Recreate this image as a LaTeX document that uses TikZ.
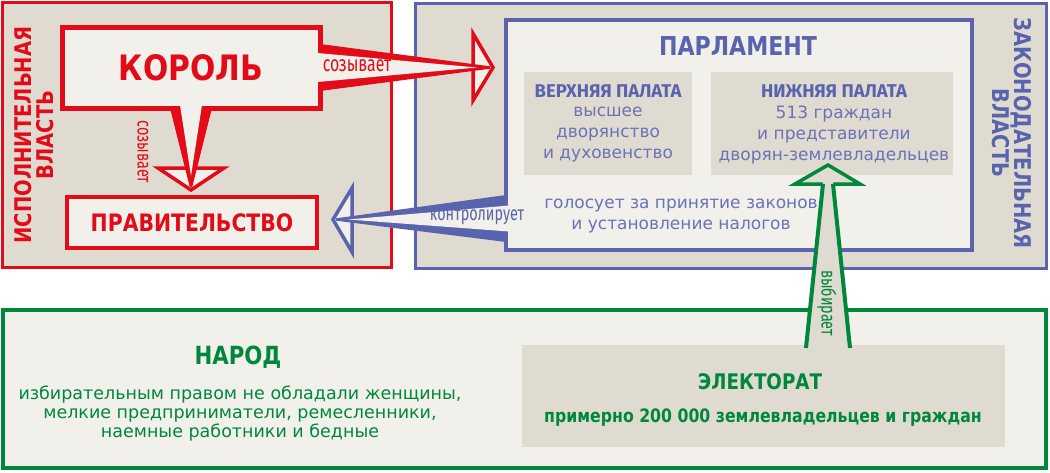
\documentclass[tikz,border=0pt]{standalone}
\usepackage{fontspec}
\setmainfont{DejaVu Sans}
\newfontfamily\hfont[FakeStretch=0.85]{DejaVu Sans}
\newfontfamily\cfont[FakeStretch=0.72]{Fira Sans}
\newfontfamily\wfont{Fira Sans}
\newfontfamily\bodyfont{DejaVu Sans}
\usetikzlibrary{calc}
\definecolor{cred}{RGB}{227,11,23}
\definecolor{cblue}{RGB}{90,99,173}
\definecolor{cblt}{RGB}{107,114,182}
\definecolor{cgreen}{RGB}{0,135,60}
\definecolor{cbeige}{RGB}{223,219,209}
\definecolor{clight}{RGB}{241,240,235}
\begin{document}
\begin{tikzpicture}[x=1pt,y=-1pt,
  box/.style={rectangle, inner sep=0pt, outer sep=0pt},
  bigbox/.style={box, line width=3pt, fill=cbeige},
  graybox/.style={box, fill=cbeige},
  htxt/.style={inner sep=0pt, font=\hfont\bfseries\fontsize{#1}{#1}\selectfont},
  ctxt/.style={inner sep=0pt, font=\cfont\fontsize{#1}{#1}\selectfont},
  wbtxt/.style={inner sep=0pt, font=\wfont\bfseries\fontsize{#1}{#1}\selectfont},
  btxt/.style={inner sep=0pt, align=center, font=\bodyfont\fontsize{#1}{21}\selectfont},
  headtri/.style={line width=3.5pt, line join=miter},
]
\useasboundingbox (0,0) rectangle (1050,472);
\fill[white] (0,0) rectangle (1050,472);

% big boxes
\node[bigbox, draw=cred, minimum width=389pt, minimum height=265pt] (exec) at (196.5,134.5) {};
\node[bigbox, draw=cblue, minimum width=631pt, minimum height=265pt] (legis) at (730.5,135.5) {};
\node[box, draw=cgreen, line width=4pt, fill=clight, minimum width=1043pt, minimum height=158pt] (people) at (524.5,389) {};

% parliament
\node[box, draw=cblue, line width=4pt, fill=clight, minimum width=466pt, minimum height=230pt] (parl) at (739,135) {};
\node[graybox, minimum width=168pt, minimum height=103pt] (upper) at (608,123.5) {};
\node[graybox, minimum width=242pt, minimum height=103pt] (lower) at (832,123.5) {};

% king & government
\node[box, draw=cred, line width=5pt, fill=clight, minimum width=258pt, minimum height=81pt] (king) at (191,67.5) {};
\node[box, draw=cred, line width=4pt, fill=clight, minimum width=250pt, minimum height=51pt,
      text=cred, font=\hfont\bfseries\fontsize{24}{24}\selectfont] (gov) at (192,222.5) {ПРАВИТЕЛЬСТВО};

% electorate
\node[graybox, minimum width=483pt, minimum height=102pt] (elect) at (763.5,396) {};

% ---- red arrow to parliament
\coordinate (rtip) at (493,67.5);
\filldraw[headtri, draw=cred, fill=clight] ($(rtip)+(-20,-34)$) -- (rtip) -- ($(rtip)+(-20,33)$) -- cycle;
\fill[cred] ($(king.east)+(0,-23.5)$) -- ($(rtip)+(-3,-1.2)$) -- ($(rtip)+(-3,1.2)$) -- ($(king.east)+(0,23.5)$) -- cycle;
\fill[clight] ($(king.east)+(-2.5,-14.5)$) -- ($(rtip)+(-16,0)$) -- ($(king.east)+(-2.5,14.5)$) -- cycle;

% ---- red arrow to government
\coordinate (dtip) at (191,190);
\filldraw[headtri, draw=cred, fill=clight] ($(dtip)+(-33,-22)$) -- (dtip) -- ($(dtip)+(33,-22)$) -- cycle;
\fill[cred] ($(king.south)+(-21,0)$) -- ($(dtip)+(-1.2,-3)$) -- ($(dtip)+(1.2,-3)$) -- ($(king.south)+(21,0)$) -- cycle;
\fill[clight] ($(king.south)+(-11,-3)$) -- ($(dtip)+(0,-14)$) -- ($(king.south)+(11,-3)$) -- cycle;

% ---- blue arrow to government
\coordinate (btip) at (333,219.5);
\coordinate (bstart) at (parl.west |- btip);
\filldraw[headtri, draw=cblue, fill=clight] ($(btip)+(19,-31.5)$) -- (btip) -- ($(btip)+(19,32.5)$) -- cycle;
\fill[cblue] ($(bstart)+(0,-24.5)$) -- ($(btip)+(3,-1.2)$) -- ($(btip)+(3,1.2)$) -- ($(bstart)+(0,22.5)$) -- cycle;
\fill[clight] ($(bstart)+(3,-14)$) -- ($(btip)+(15,0)$) -- ($(bstart)+(3,12)$) -- cycle;

% ---- green arrow to lower chamber
\coordinate (gtip) at (828,165);
\coordinate (gbase) at (gtip |- elect.north);
\filldraw[headtri, draw=cgreen, fill=cbeige] ($(gtip)+(-33,19)$) -- (gtip) -- ($(gtip)+(32,19)$) -- cycle;
\fill[cbeige] ($(gbase)+(-22,3)$) -- ($(gtip)+(-5,17)$) -- ($(gtip)+(5,17)$) -- ($(gbase)+(22,3)$) -- cycle;
\draw[cgreen, line width=4pt] ($(gbase)+(-22,3)$) -- ($(gtip)+(-5,19)$);
\draw[cgreen, line width=4pt] ($(gbase)+(22,3)$) -- ($(gtip)+(5,19)$);

% ---- texts
\node[htxt=35, text=cred] (kingt) at (king.center) {КОРОЛЬ};
\node[ctxt=22, text=cred] (summ1) at (357,66) {созывает};
\node[ctxt=20, text=cred, rotate=-90] (summ2) at (143,152) {созывает};
\node[ctxt=20, text=cblue] (ctrl) at (477,217) {контролирует};
\node[ctxt=20, text=cgreen, rotate=-90] (elects) at (827,303) {выбирает};

\node[text=cred, rotate=90, align=center, inner sep=0pt, font=\hfont\bfseries\fontsize{23}{22}\selectfont] (execlab) at (34,135) {ИСПОЛНИТЕЛЬНАЯ\\ВЛАСТЬ};
\node[text=cblue, rotate=-90, align=center, inner sep=0pt, font=\hfont\bfseries\fontsize{23}{22}\selectfont] (leglab) at (1012,133) {ЗАКОНОДАТЕЛЬНАЯ\\ВЛАСТЬ};

\node[htxt=26, text=cblue] (parlt) at (738,46) {ПАРЛАМЕНТ};
\node[wbtxt=18.5, text=cblue] (uppert) at (608,91) {ВЕРХНЯЯ ПАЛАТА};
\node[wbtxt=18.5, text=cblue] (lowert) at (834,91) {НИЖНЯЯ ПАЛАТА};
\node[btxt=17, text=cblt] (upperb) at (608,135) {высшее\\дворянство\\и духовенство};
\node[btxt=17, text=cblt] (lowerb) at (834,135) {513 граждан\\и представители\\дворян-землевладельцев};
\node[btxt=17, text=cblt] (vote) at (681,216) {голосует за принятие законов\\и установление налогов};

\node[htxt=25, text=cgreen] (peoplet) at (238,357) {НАРОД};
\node[text=cgreen, inner sep=0pt, align=center, font=\bodyfont\fontsize{17.5}{19}\selectfont] (peopleb) at (240,414) {избирательным правом не обладали женщины,\\мелкие предприниматели, ремесленники,\\наемные работники и бедные};
\node[htxt=21.5, text=cgreen] (electt) at (760,382) {ЭЛЕКТОРАТ};
\node[htxt=18.5, text=cgreen] (electb) at (763,418) {примерно 200 000 землевладельцев и граждан};
\end{tikzpicture}
\end{document}
